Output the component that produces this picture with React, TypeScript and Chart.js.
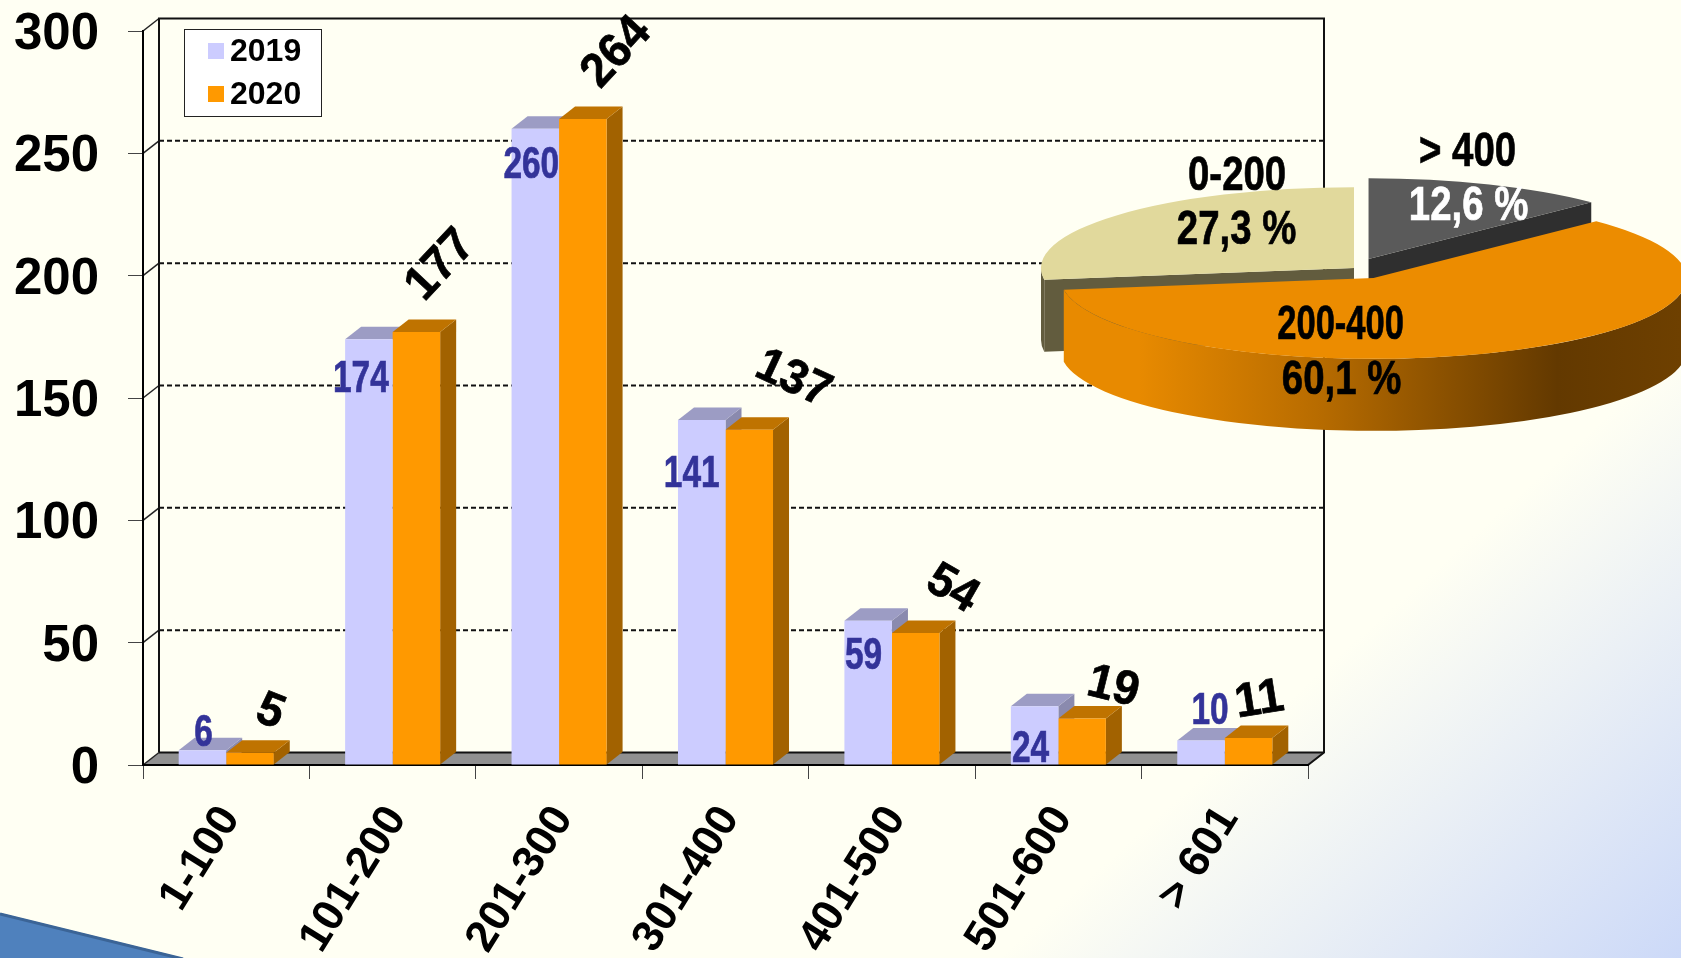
import React, { useEffect, useRef } from "react";
import { Chart, registerables } from "chart.js";

Chart.register(...registerables);

const categories = ["1-100", "101-200", "201-300", "301-400", "401-500", "501-600", "> 601"];
const values2019 = [6, 174, 260, 141, 59, 24, 10];
const values2020 = [5, 177, 264, 137, 54, 19, 11];
const seriesNames = ["2019", "2020"];

const pieLabels = ["> 400", "200-400", "0-200"];
const pieValues = [12.6, 60.1, 27.3];
const pieValueText = ["12,6 %", "60,1 %", "27,3 %"];

// styling / placement, kept apart from the data
const FONT = '"Liberation Sans", Arial, sans-serif';
const DEPTH_X = 16;
const DEPTH_Y = 12.5;
const colors2019 = { front: "#CCCCFF", top: "#9C9CC4", side: "#8A8AAE" };
const colors2020 = { front: "#FF9900", top: "#BF7300", side: "#A26200" };

const place2019 = [[1, -19], [-8, 38], [-4, 34], [-10, 52], [-4.6, 34], [-4, 41], [9, -31.5]];
const place2020 = [[20, -43, 22], [24.5, -69, -47], [34, -69, -47], [44, -53, 25], [36.5, -46, 30], [31, -33.5, 14], [11, -40, -9]];

const PIE_W = 700;
const PIE_H = 380;
const PIE_LEFT = 1004.4;
const PIE_TOP = 78;
const PIE_R = 313;
const PIE_SQUASH = 0.258;
const PIE_DEPTH = 72;
const pieExplode = [37.7, 43.8, 0];
const pieColors = ["#5A5A5A", "#EC8C00", "#E1D99C"];
const pieTextPlaces = [
  { name: [1468, 150], value: [1469, 204], valueColor: "#FFFFFF", nameSx: 0.8 },
  { name: [1341, 323], value: [1342, 378], valueColor: "#000000", nameSx: 0.72 },
  { name: [1237.5, 174], value: [1237, 228], valueColor: "#000000", nameSx: 0.8 },
];

const squeezedText = (ctx: any, text: string, x: number, y: number, size: number, sx: number, color: string, rot = 0) => {
  ctx.save();
  ctx.translate(x, y + 2.5);
  if (rot) ctx.rotate((rot * Math.PI) / 180);
  ctx.scale(sx, 1);
  ctx.font = `bold ${size}px ${FONT}`;
  ctx.fillStyle = color;
  ctx.strokeStyle = color;
  ctx.lineWidth = 0.7;
  ctx.textAlign = "center";
  ctx.textBaseline = "middle";
  ctx.fillText(text, 0, 0);
  ctx.strokeText(text, 0, 0);
  ctx.restore();
};

const stagePlugin = {
  id: "stage",
  beforeDraw(chart: any) {
    const { ctx, chartArea: a, scales } = chart;
    const { width, height } = chart;
    ctx.save();
    const g = ctx.createLinearGradient(1340, 654, 1642, 993);
    g.addColorStop(0, "#FFFFF3");
    g.addColorStop(1, "#CCD9F8");
    ctx.fillStyle = g;
    ctx.fillRect(0, 0, width, height);

    // corner swoosh
    ctx.beginPath();
    ctx.moveTo(0, 913);
    ctx.lineTo(183, 958);
    ctx.lineTo(0, 958);
    ctx.closePath();
    ctx.fillStyle = "#4F81BD";
    ctx.fill();
    ctx.beginPath();
    ctx.moveTo(0, 914);
    ctx.lineTo(183, 959);
    ctx.strokeStyle = "#3B6496";
    ctx.lineWidth = 3;
    ctx.stroke();

    // floor
    ctx.beginPath();
    ctx.moveTo(a.left, a.bottom);
    ctx.lineTo(a.left + DEPTH_X, a.bottom - DEPTH_Y);
    ctx.lineTo(a.right + DEPTH_X, a.bottom - DEPTH_Y);
    ctx.lineTo(a.right, a.bottom);
    ctx.closePath();
    ctx.fillStyle = "#909090";
    ctx.fill();

    // dashed grid on the back wall and its links on the side wall
    const y = scales.y;
    y.ticks.forEach((t: any) => {
      const p = y.getPixelForValue(t.value);
      ctx.setLineDash([]);
      ctx.lineWidth = 1.5;
      ctx.strokeStyle = "#222";
      ctx.beginPath();
      ctx.moveTo(a.left, p);
      ctx.lineTo(a.left + DEPTH_X, p - DEPTH_Y);
      ctx.stroke();
      if (t.value > 0 && t.value < 300) {
        ctx.setLineDash([5, 3]);
        ctx.lineWidth = 2;
        ctx.strokeStyle = "#111";
        ctx.beginPath();
        ctx.moveTo(a.left + DEPTH_X, p - DEPTH_Y);
        ctx.lineTo(a.right + DEPTH_X, p - DEPTH_Y);
        ctx.stroke();
      }
    });
    ctx.setLineDash([]);

    // back wall outline
    ctx.strokeStyle = "#111";
    ctx.lineWidth = 2;
    ctx.beginPath();
    ctx.moveTo(a.left + DEPTH_X, a.bottom - DEPTH_Y);
    ctx.lineTo(a.left + DEPTH_X, a.top - DEPTH_Y);
    ctx.lineTo(a.right + DEPTH_X, a.top - DEPTH_Y);
    ctx.lineTo(a.right + DEPTH_X, a.bottom - DEPTH_Y);
    ctx.lineTo(a.right, a.bottom);
    ctx.stroke();
    ctx.beginPath();
    ctx.moveTo(a.left + DEPTH_X, a.bottom - DEPTH_Y);
    ctx.lineTo(a.right + DEPTH_X, a.bottom - DEPTH_Y);
    ctx.stroke();
    ctx.restore();
  },
  beforeDatasetsDraw(chart: any) {
    const { ctx } = chart;
    ctx.save();
    [colors2019, colors2020].forEach((c, di) => {
      chart.getDatasetMeta(di).data.forEach((bar: any) => {
        const l = bar.x - bar.width / 2;
        const r = bar.x + bar.width / 2;
        const t = bar.y;
        const b = bar.base;
        ctx.fillStyle = c.side;
        ctx.beginPath();
        ctx.moveTo(r, t);
        ctx.lineTo(r + DEPTH_X, t - DEPTH_Y);
        ctx.lineTo(r + DEPTH_X, b - DEPTH_Y);
        ctx.lineTo(r, b);
        ctx.closePath();
        ctx.fill();
        ctx.fillStyle = c.top;
        ctx.beginPath();
        ctx.moveTo(l, t);
        ctx.lineTo(l + DEPTH_X, t - DEPTH_Y);
        ctx.lineTo(r + DEPTH_X, t - DEPTH_Y);
        ctx.lineTo(r, t);
        ctx.closePath();
        ctx.fill();
      });
    });
    ctx.restore();
  },
  afterDatasetsDraw(chart: any) {
    const { ctx } = chart;
    chart.getDatasetMeta(0).data.forEach((bar: any, i: number) => {
      squeezedText(ctx, String(values2019[i]), bar.x + place2019[i][0], bar.y + place2019[i][1], 44, 0.76, "#333399");
    });
    chart.getDatasetMeta(1).data.forEach((bar: any, i: number) => {
      squeezedText(ctx, String(values2020[i]), bar.x + place2020[i][0], bar.y + place2020[i][1], 48, 0.96, "#000000", place2020[i][2]);
    });

    // legend
    ctx.save();
    ctx.fillStyle = "#FFFFFF";
    ctx.strokeStyle = "#222";
    ctx.lineWidth = 1;
    ctx.fillRect(184.5, 29.5, 137, 87);
    ctx.strokeRect(184.5, 29.5, 137, 87);
    seriesNames.forEach((name, i) => {
      const cy = 51 + i * 43;
      ctx.fillStyle = i === 0 ? colors2019.front : colors2020.front;
      ctx.fillRect(208, cy - 8, 16, 16);
      ctx.fillStyle = "#000";
      ctx.font = `bold 32px ${FONT}`;
      ctx.textAlign = "left";
      ctx.textBaseline = "middle";
      ctx.fillText(name, 230, cy + 1);
    });
    ctx.restore();
  },
};

const piePlugin = {
  id: "pie3d",
  afterDatasetsUpdate(chart: any) {
    const a = chart.chartArea;
    const cx = (a.left + a.right) / 2;
    const cy = (a.top + a.bottom) / 2;
    chart.getDatasetMeta(0).data.forEach((arc: any, i: number) => {
      const mid = (arc.startAngle + arc.endAngle) / 2;
      arc.x = cx + Math.cos(mid) * pieExplode[i];
      arc.y = cy + Math.sin(mid) * pieExplode[i];
    });
  },
  beforeDatasetsDraw(chart: any) {
    const { ctx, chartArea: a } = chart;
    const cx = (a.left + a.right) / 2;
    const cy = (a.top + a.bottom) / 2;
    const arcs = chart.getDatasetMeta(0).data;
    const screen = (arc: any) => ({ X: arc.x, Y: cy + (arc.y - cy) * PIE_SQUASH, R: arc.outerRadius });
    const ry = (R: number) => R * PIE_SQUASH;

    const cutFace = (arc: any, angle: number, color: string) => {
      const { X, Y, R } = screen(arc);
      const px = X + R * Math.cos(angle);
      const py = Y + ry(R) * Math.sin(angle);
      ctx.fillStyle = color;
      ctx.beginPath();
      ctx.moveTo(X, Y);
      ctx.lineTo(px, py);
      ctx.lineTo(px, py + PIE_DEPTH);
      ctx.lineTo(X, Y + PIE_DEPTH);
      ctx.closePath();
      ctx.fill();
    };
    const rim = (arc: any, from: number, to: number, fill: any) => {
      const { X, Y, R } = screen(arc);
      ctx.fillStyle = fill;
      ctx.beginPath();
      ctx.ellipse(X, Y, R, ry(R), 0, from, to, false);
      ctx.ellipse(X, Y + PIE_DEPTH, R, ry(R), 0, to, from, true);
      ctx.closePath();
      ctx.fill();
    };

    ctx.save();
    // tan slice: cut face and the short bit of rim on the far left
    cutFace(arcs[2], arcs[2].startAngle, "#625C3E");
    rim(arcs[2], arcs[2].startAngle, Math.PI, "#625C3E");
    // dark slice cut face
    cutFace(arcs[0], arcs[0].endAngle, "#2F2F2F");
    // orange rim
    const g = ctx.createLinearGradient(1065 - PIE_LEFT, 0, 1681 - PIE_LEFT, 0);
    g.addColorStop(0, "#E88A00");
    g.addColorStop(0.12, "#E88A00");
    g.addColorStop(0.41, "#B86C00");
    g.addColorStop(0.8, "#633900");
    g.addColorStop(1, "#6E4000");
    rim(arcs[1], 0, arcs[1].endAngle, g);
    ctx.restore();

    ctx.save();
    ctx.translate(cx, cy);
    ctx.scale(1, PIE_SQUASH);
    ctx.translate(-cx, -cy);
  },
  afterDatasetsDraw(chart: any) {
    chart.ctx.restore();
  },
  afterDraw(chart: any) {
    const { ctx } = chart;
    pieLabels.forEach((name, i) => {
      const p = pieTextPlaces[i];
      squeezedText(ctx, name, p.name[0] - PIE_LEFT, p.name[1] - PIE_TOP, 48, p.nameSx, "#000000");
      squeezedText(ctx, pieValueText[i], p.value[0] - PIE_LEFT, p.value[1] - PIE_TOP, 48, 0.8, p.valueColor);
    });
  },
};

export default function App() {
  const barRef = useRef<HTMLCanvasElement>(null);
  const pieRef = useRef<HTMLCanvasElement>(null);

  useEffect(() => {
    const bar = new Chart(barRef.current as any, {
      type: "bar",
      data: {
        labels: categories,
        datasets: [
          { label: seriesNames[0], data: values2019, backgroundColor: colors2019.front, borderWidth: 0 },
          { label: seriesNames[1], data: values2020, backgroundColor: colors2020.front, borderWidth: 0 },
        ],
      },
      options: {
        animation: false,
        responsive: false,
        layout: { padding: { top: 31, right: 373, left: 0, bottom: 0 } },
        plugins: { legend: { display: false }, tooltip: { enabled: false } },
        datasets: { bar: { categoryPercentage: 0.571, barPercentage: 1 } },
        scales: {
          x: {
            offset: true,
            afterFit: (s: any) => { s.height = 193; s.paddingLeft = 0; s.paddingRight = 0; },
            grid: { offset: true, drawOnChartArea: false, drawTicks: true, tickLength: 14, color: "#444", lineWidth: 1 },
            border: { display: true, color: "#000", width: 2 },
            ticks: {
              autoSkip: false,
              minRotation: 58,
              maxRotation: 58,
              padding: 18,
              labelOffset: 4,
              color: "#000",
              font: { family: FONT, size: 44, weight: "bold" },
            },
          },
          y: {
            min: 0,
            max: 300,
            afterFit: (s: any) => { s.width = 143; s.paddingTop = 0; s.paddingBottom = 0; },
            grid: { drawOnChartArea: false, drawTicks: true, tickLength: 15, color: "#444", lineWidth: 1 },
            border: { display: true, color: "#000", width: 2 },
            ticks: { stepSize: 50, padding: 29, labelOffset: 4, color: "#000", font: { family: FONT, size: 51, weight: "bold" } },
          },
        },
      } as any,
      plugins: [stagePlugin],
    });

    const pie = new Chart(pieRef.current as any, {
      type: "pie",
      data: {
        labels: pieLabels,
        datasets: [{ data: pieValues, backgroundColor: pieColors, borderWidth: 0, clip: false } as any],
      },
      options: {
        animation: false,
        responsive: false,
        radius: PIE_R,
        plugins: { legend: { display: false }, tooltip: { enabled: false } },
      } as any,
      plugins: [piePlugin],
    });

    return () => {
      bar.destroy();
      pie.destroy();
    };
  }, []);

  return (
    <div style={{ position: "fixed", left: 0, top: 0, width: 1681, height: 958, overflow: "hidden" }}>
      <canvas ref={barRef} width={1681} height={958} style={{ position: "absolute", left: 0, top: 0 }} />
      <canvas ref={pieRef} width={PIE_W} height={PIE_H} style={{ position: "absolute", left: PIE_LEFT, top: PIE_TOP }} />
    </div>
  );
}
